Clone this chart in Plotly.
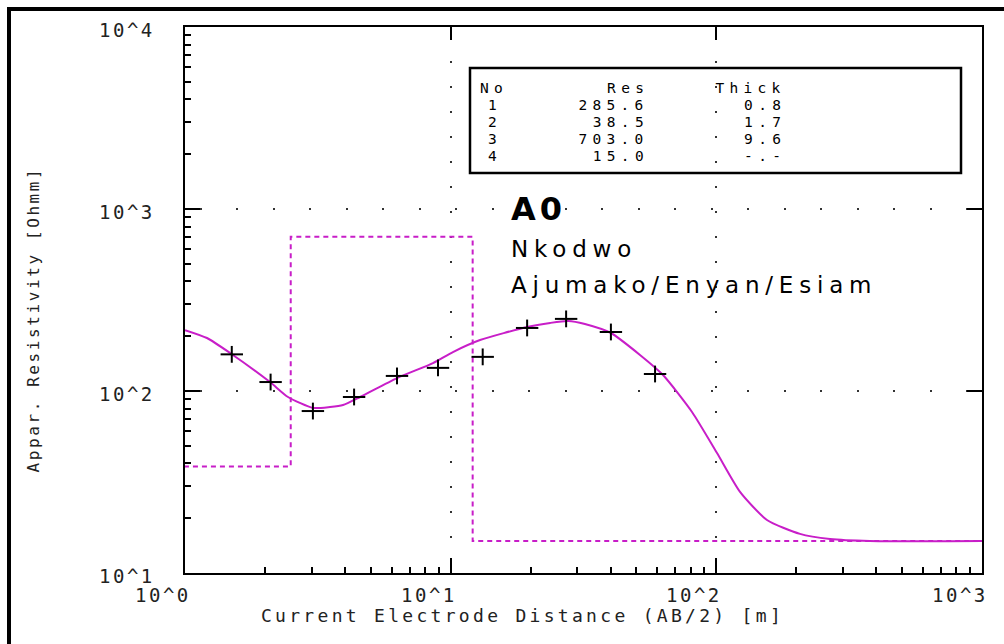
import json
import numpy as np
import plotly.graph_objects as go

# Field data: half electrode spacing AB/2 [m] and apparent resistivity [Ohm m]
ab2_obs = [1.50, 2.10, 3.03, 4.33, 6.28, 8.96, 13.2, 19.4, 27.2, 40.1, 58.8]
rho_obs = [159, 112, 77.6, 92.7, 121, 134, 154, 222, 249, 211, 124]

# Computed response of the layered model
ab2_model = [1.0, 1.21, 1.477, 2.089, 2.442, 3.032, 3.515, 3.933, 4.558, 6.28,
             8.58, 10.2, 12.9, 19.4, 23.7, 27.7, 32.0, 40.1, 51.6, 63.0, 81.0,
             100.6, 122.8, 155.1, 206.5, 267.8, 378.0, 1000.0]
rho_model = [216, 195.5, 161.8, 112, 92.7, 80.7, 81.7, 83.7, 92.7, 117.8,
             142.4, 163.7, 190.5, 224.7, 236.6, 242.6, 233.4, 208.3, 157.8, 122.4, 76.7,
             45.6, 27.9, 19.56, 16.4, 15.38, 15.0, 15.0]

# Interpreted layers (the last one is a half-space)
layer_no = [1, 2, 3, 4]
layer_res = [285.6, 38.5, 703.0, 15.0]
layer_thick = [0.8, 1.7, 9.6]

# Axis tick labels
x_tickvals = [1, 10, 100, 1000]
x_ticktext = ["10^0", "10^1", "10^2", "10^3"]
y_tickvals = [10, 100, 1000, 10000]
y_ticktext = ["10^1", "10^2", "10^3", "10^4"]

site_code = "A0"
site_name = "Nkodwo"
site_area = "Ajumako/Enyan/Esiam"
x_title = "Current Electrode Distance (AB/2) [m]"
y_title = "Appar. Resistivity [Ohmm]"

# ---- figure geometry (pixels) ----
W, H = 1004, 644
L, R, T, B = 185, 982, 27, 573
PW, PH = R - L, B - T


def fx(px):
    return (px - L) / PW


def fy(py):
    return (B - py) / PH


MAGENTA = "#c81ec8"
MONO = "DejaVu Sans Mono"
SANS = "DejaVu Sans"

fig = go.Figure()

# Layer model as a step line (depth vs true resistivity)
depths = np.cumsum(layer_thick)
step_x = [0.1]
step_y = [layer_res[0]]
for d, r_top, r_bot in zip(depths, layer_res[:-1], layer_res[1:]):
    step_x += [d, d]
    step_y += [r_top, r_bot]
step_x.append(1000.0)
step_y.append(layer_res[-1])
fig.add_trace(go.Scatter(x=step_x, y=step_y, mode="lines",
                         line=dict(color=MAGENTA, width=2, dash="5px,4px"),
                         hoverinfo="skip", showlegend=False))

# Model curve
fig.add_trace(go.Scatter(x=ab2_model, y=rho_model, mode="lines",
                         line=dict(color=MAGENTA, width=2, shape="spline", smoothing=0.6),
                         hoverinfo="skip", showlegend=False))

# Observed points drawn as plus signs (wider than tall)
fig.add_trace(go.Scatter(x=ab2_obs, y=rho_obs, mode="markers",
                         marker=dict(symbol="line-ew", size=16,
                                     line=dict(color="black", width=2)),
                         hoverinfo="skip", showlegend=False))
fig.add_trace(go.Scatter(x=ab2_obs, y=rho_obs, mode="markers",
                         marker=dict(symbol="line-ns", size=12,
                                     line=dict(color="black", width=2)),
                         hoverinfo="skip", showlegend=False))

minor_x = [m * 10 ** e for e in range(0, 3) for m in range(2, 10)]
minor_y = [m * 10 ** e for e in range(1, 4) for m in range(2, 10)]

axis_common = dict(type="log", showline=True, linecolor="black", linewidth=2,
                   mirror=True, ticks="inside", ticklen=15, tickwidth=2,
                   tickcolor="black", showticklabels=False, zeroline=False,
                   gridcolor="#333333", gridwidth=2)

fig.update_layout(
    width=W, height=H,
    margin=dict(l=L, r=W - R, t=T, b=H - B, pad=0),
    paper_bgcolor="white", plot_bgcolor="white",
    showlegend=False,
    xaxis=dict(axis_common, range=[0, 3], tickmode="array", tickvals=x_tickvals[1:-1],
               showgrid=True, griddash="0px,9px,2px,14px",
               minor=dict(tickmode="array", tickvals=minor_x, ticks="inside",
                          ticklen=6, tickwidth=2, tickcolor="black", showgrid=False)),
    yaxis=dict(axis_common, range=[1, 4], tickmode="array", tickvals=y_tickvals[1:-1],
               showgrid=True, griddash="0px,15px,2px,34px,2px,20px",
               minor=dict(tickmode="array", tickvals=minor_y, ticks="inside",
                          ticklen=6, tickwidth=2, tickcolor="black", showgrid=False)),
    # top / right frame carries only the decade ticks
    xaxis2=dict(type="log", range=[0, 3], overlaying="x", side="top",
                tickmode="array", tickvals=x_tickvals[1:-1], ticks="inside",
                ticklen=13, tickwidth=2, tickcolor="black",
                showticklabels=False, showgrid=False, showline=False, zeroline=False),
    yaxis2=dict(type="log", range=[1, 4], overlaying="y", side="right",
                tickmode="array", tickvals=y_tickvals[1:-1], ticks="inside",
                ticklen=15, tickwidth=2, tickcolor="black",
                showticklabels=False, showgrid=False, showline=False, zeroline=False),
)
fig.add_trace(go.Scatter(x=[10], y=[100], xaxis="x2", yaxis="y2", mode="markers",
                         marker=dict(opacity=0), hoverinfo="skip", showlegend=False))

annotations = []
spacing = []


def add_text(text, x, y, xref="paper", yref="paper", size=17, family=MONO,
             anchor="left", yanchor="middle", ls=0.0, color="black", angle=0,
             weight="normal", xshift=0, yshift=0):
    annotations.append(dict(text=text, x=x, y=y, xref=xref, yref=yref,
                            xanchor=anchor, align=anchor, yanchor=yanchor,
                            showarrow=False, textangle=angle,
                            xshift=xshift, yshift=yshift,
                            font=dict(family=family, size=size, color=color,
                                      weight=weight)))
    spacing.append(ls)


# Axis tick labels
for v, t in zip(x_tickvals, x_ticktext):
    add_text(t, np.log10(v), fy(595), xref="x", size=19, anchor="right",
             ls=2.5, color="#222222", xshift=8)
for v, t in zip(y_tickvals, y_ticktext):
    add_text(t, fx(157), np.log10(v), yref="y", size=19, anchor="right",
             ls=2.5, color="#222222", yshift=-3)

# Axis titles
add_text(x_title, fx(522), fy(615), size=18, anchor="center", ls=3.3, color="#222222")
add_text(y_title, fx(33), fy(320), size=16, anchor="center", ls=2.6,
         color="#222222", angle=-90)

# Site labels
add_text(site_code, fx(509), fy(209), size=32, family=SANS, weight="bold", ls=4)
add_text(site_name, fx(509), fy(249), size=23, family=SANS, ls=5.8)
add_text(site_area, fx(509), fy(285), size=23, family=SANS, ls=5.8)

# Layer table
TS, TLS = 14.5, 5.3
row_y = [88, 105, 122, 139, 156]
add_text("No", fx(478), fy(row_y[0]), size=TS, ls=TLS)
add_text("Res", fx(651), fy(row_y[0]), size=TS, anchor="right", ls=TLS)
add_text("Thick", fx(788), fy(row_y[0]), size=TS, anchor="right", ls=TLS)
thick_txt = ["%.1f" % t for t in layer_thick] + ["-.-"]
for i, (n, r, t) in enumerate(zip(layer_no, layer_res, thick_txt)):
    yy = fy(row_y[i + 1])
    add_text(str(n), fx(492), yy, size=TS, anchor="center", ls=0)
    add_text("%.1f" % r, fx(651), yy, size=TS, anchor="right", ls=TLS)
    add_text(t, fx(788), yy, size=TS, anchor="right", ls=TLS)

fig.update_layout(annotations=annotations)

# Table box and the outer frame
fig.add_shape(type="rect", xref="paper", yref="paper",
              x0=fx(470), x1=fx(961), y0=fy(68), y1=fy(173),
              line=dict(color="black", width=2.5), fillcolor="rgba(0,0,0,0)")
fig.add_shape(type="line", xref="paper", yref="paper",
              x0=fx(7), x1=fx(1010), y0=fy(9), y1=fy(9),
              line=dict(color="black", width=4))
fig.add_shape(type="line", xref="paper", yref="paper",
              x0=fx(9), x1=fx(9), y0=fy(7), y1=fy(650),
              line=dict(color="black", width=4))

post_js = """
var gd = document.getElementById('{plot_id}');
var sp = %s;
gd.querySelectorAll('g.annotation').forEach(function(g) {
  var i = +g.getAttribute('data-index');
  var t = g.querySelector('text.annotation-text');
  if (t && sp[i]) {
    t.setAttribute('letter-spacing', sp[i] + 'px');
    t.style.letterSpacing = sp[i] + 'px';
  }
});
""" % json.dumps(spacing)

fig.write_html("out.html", config={"responsive": False, "displayModeBar": False},
               post_script=post_js)
